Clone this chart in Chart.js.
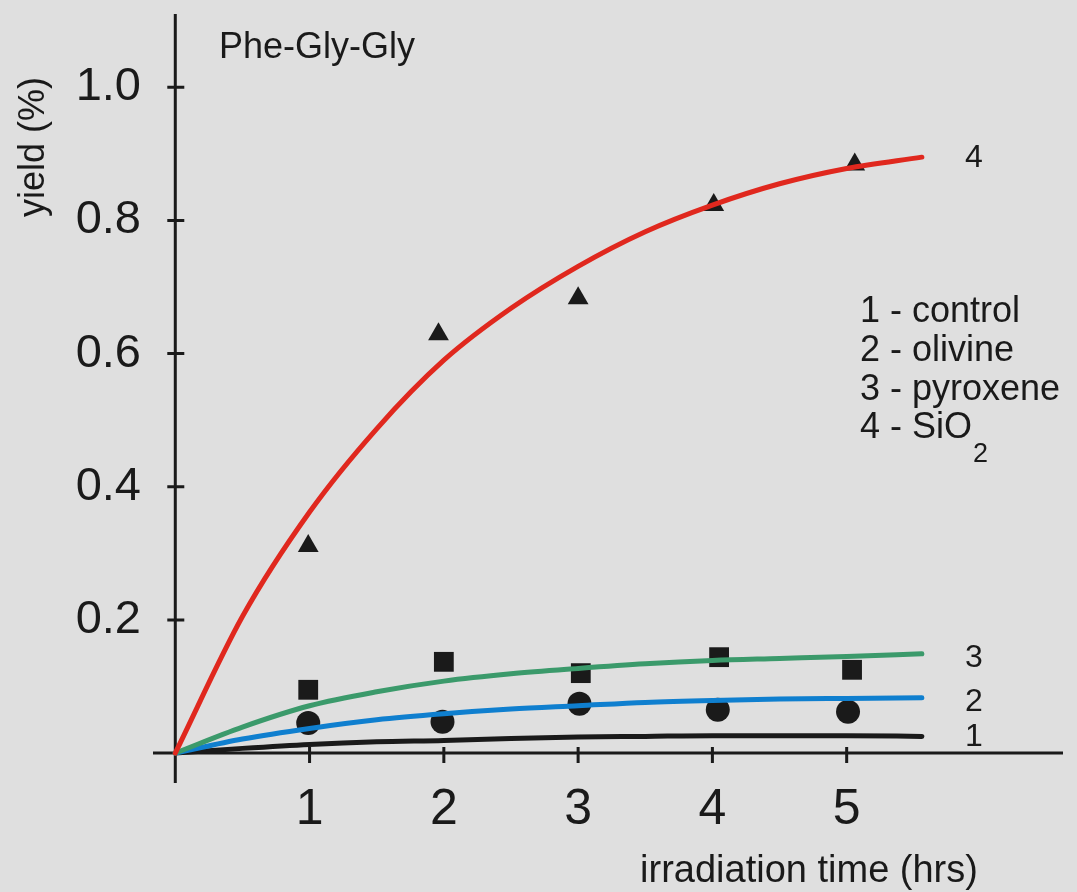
<!DOCTYPE html>
<html lang="en">
<head>
  <meta charset="UTF-8">
  <title>Phe-Gly-Gly yield</title>
  <script src="https://cdn.jsdelivr.net/npm/chart.js"></script>
  <style>
    body { margin: 0; background: #dfdfdf; }
    #wrap { width: 1077px; height: 892px; }
  </style>
</head>
<body>
  <div id="wrap">
    <canvas id="yieldChart" width="1077" height="892"></canvas>
  </div>

  <script>
    // tick labels
    const xTicks = [1, 2, 3, 4, 5];
    const yTicks = [0.2, 0.4, 0.6, 0.8, 1.0];

    // fitted curves
    const fitTime = [0, 0.5, 1, 1.5, 2, 2.5, 3, 3.5, 4, 4.5, 5, 5.56];
    const fitControl  = [0, 0.007, 0.013, 0.017, 0.019, 0.022, 0.024, 0.025, 0.026, 0.026, 0.026, 0.025];
    const fitOlivine  = [0, 0.021, 0.037, 0.050, 0.059, 0.066, 0.071, 0.076, 0.079, 0.081, 0.082, 0.083];
    const fitPyroxene = [0, 0.039, 0.071, 0.092, 0.108, 0.119, 0.127, 0.134, 0.139, 0.142, 0.145, 0.149];
    const fitSiO2     = [0, 0.205, 0.362, 0.487, 0.590, 0.668, 0.731, 0.783, 0.823, 0.855, 0.878, 0.895];

    // measured points
    const olivineTime = [0.99, 1.99, 3.01, 4.04, 5.01];
    const olivineYield = [0.045, 0.047, 0.074, 0.065, 0.062];
    const pyroxeneTime = [0.99, 2.00, 3.02, 4.05, 5.04];
    const pyroxeneYield = [0.095, 0.137, 0.120, 0.144, 0.125];
    const sio2Time = [0.99, 1.96, 3.00, 4.01, 5.06];
    const sio2Yield = [0.311, 0.629, 0.683, 0.823, 0.884];

    const legendLines = ['1 - control', '2 - olivine', '3 - pyroxene', '4 - SiO'];

    const FONT = "'Liberation Sans', Arial, sans-serif";
    const INK = '#1a1a1a';

    const pts = (xs, ys) => xs.map((x, i) => ({ x: x, y: ys[i] }));

    function curve(values, color) {
      return {
        data: pts(fitTime, values),
        showLine: true,
        borderColor: color,
        borderWidth: 5,
        borderCapStyle: 'round',
        pointRadius: 0,
        cubicInterpolationMode: 'monotone',
        fill: false
      };
    }

    function markers(xs, ys, style, radius) {
      return {
        data: pts(xs, ys),
        showLine: false,
        pointStyle: style,
        pointRadius: radius,
        backgroundColor: INK,
        borderColor: INK,
        borderWidth: 0
      };
    }

    // axes through zero, crossing ticks and the free texts
    const decorations = {
      id: 'decorations',
      beforeDatasetsDraw(chart) {
        const ctx = chart.ctx;
        const xs = chart.scales.x, ys = chart.scales.y;
        const x0 = xs.getPixelForValue(0), y0 = ys.getPixelForValue(0);
        ctx.save();
        ctx.strokeStyle = INK;
        ctx.lineWidth = 3;
        ctx.beginPath();
        ctx.moveTo(x0, chart.chartArea.top);
        ctx.lineTo(x0, chart.chartArea.bottom);
        ctx.moveTo(chart.chartArea.left, y0);
        ctx.lineTo(chart.chartArea.right, y0);
        yTicks.forEach(v => {
          const py = ys.getPixelForValue(v);
          ctx.moveTo(x0 - 8, py);
          ctx.lineTo(x0 + 9, py);
        });
        xTicks.forEach(v => {
          const px = xs.getPixelForValue(v);
          ctx.moveTo(px, y0 - 6);
          ctx.lineTo(px, y0 + 10);
        });
        ctx.stroke();
        ctx.restore();
      },
      afterDraw(chart) {
        const ctx = chart.ctx;
        const ys = chart.scales.y;
        ctx.save();
        ctx.fillStyle = INK;
        ctx.textBaseline = 'middle';

        ctx.font = '36px ' + FONT;
        ctx.textAlign = 'left';
        ctx.fillText('Phe-Gly-Gly', 219, 48);

        ctx.save();
        ctx.translate(34, 147);
        ctx.rotate(-Math.PI / 2);
        ctx.textAlign = 'center';
        ctx.fillText('yield (%)', 0, 0);
        ctx.restore();

        ctx.textAlign = 'center';
        ctx.textBaseline = 'alphabetic';
        ctx.font = '38px ' + FONT;
        ctx.fillText('irradiation time (hrs)', 809, 882);

        // legend
        ctx.textAlign = 'left';
        ctx.font = '36px ' + FONT;
        const base = [322, 361, 400, 438];
        legendLines.forEach((t, i) => ctx.fillText(t, 860, base[i]));
        const w = ctx.measureText(legendLines[3]).width;
        ctx.font = '27px ' + FONT;
        ctx.fillText('2', 860 + w + 1, 462);

        // curve numbers
        ctx.font = '32px ' + FONT;
        ctx.textAlign = 'center';
        ctx.textBaseline = 'middle';
        const ends = [fitControl, fitOlivine, fitPyroxene, fitSiO2];
        const nudge = [0, 3, 3, 0];
        ends.forEach((arr, i) => {
          const py = ys.getPixelForValue(arr[arr.length - 1]) + nudge[i];
          ctx.fillText(String(i + 1), 974, py + 1);
        });
        ctx.restore();
      }
    };

    new Chart(document.getElementById('yieldChart'), {
      type: 'scatter',
      data: {
        datasets: [
          curve(fitSiO2, '#e0281e'),
          curve(fitPyroxene, '#3b9a6b'),
          curve(fitOlivine, '#0f7fcf'),
          curve(fitControl, INK),
          markers(sio2Time, sio2Yield, 'triangle', 12),
          markers(pyroxeneTime, pyroxeneYield, 'rect', 14),
          markers(olivineTime, olivineYield, 'circle', 12)
        ]
      },
      options: {
        responsive: false,
        animation: false,
        layout: { padding: { top: 14, right: 7, left: 0, bottom: 0 } },
        plugins: { legend: { display: false }, tooltip: { enabled: false } },
        scales: {
          x: {
            type: 'linear',
            min: -0.166,
            max: 6.611,
            grid: { display: false, drawTicks: false },
            border: { display: false },
            afterBuildTicks: s => { s.ticks = xTicks.map(v => ({ value: v })); },
            afterFit: s => { s.height = 109; s.paddingLeft = 0; s.paddingRight = 0; },
            ticks: {
              autoSkip: false,
              maxRotation: 0,
              padding: -3,
              color: INK,
              font: { family: FONT, size: 50 },
              callback: v => String(v)
            }
          },
          y: {
            type: 'linear',
            min: -0.045,
            max: 1.11,
            grid: { display: false, drawTicks: false },
            border: { display: false },
            afterBuildTicks: s => { s.ticks = yTicks.map(v => ({ value: v })); },
            afterFit: s => { s.width = 153; s.paddingTop = 0; s.paddingBottom = 0; },
            ticks: {
              autoSkip: false,
              padding: 12,
              color: INK,
              font: { family: FONT, size: 47 },
              callback: v => v.toFixed(1)
            }
          }
        }
      },
      plugins: [decorations]
    });
  </script>
</body>
</html>
